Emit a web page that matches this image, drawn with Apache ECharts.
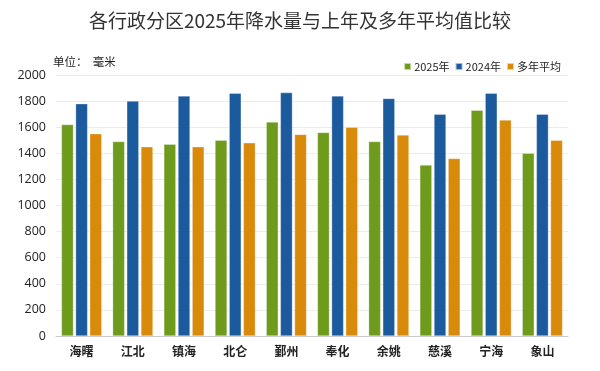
<!DOCTYPE html>
<html><head><meta charset="utf-8">
<script src="https://cdn.jsdelivr.net/npm/echarts@6/dist/echarts.min.js"></script>
<style>html,body{margin:0;padding:0;background:#fff}#c{width:600px;height:371px}</style>
</head><body><div id="c"></div>
<script>
var categories = ['海曙','江北','镇海','北仑','鄞州','奉化','余姚','慈溪','宁海','象山'];
var seriesNames = ['2025年','2024年','多年平均'];
var v2025 = [1620,1490,1470,1500,1640,1560,1490,1310,1730,1400];
var v2024 = [1780,1800,1840,1860,1865,1840,1820,1700,1860,1700];
var vAvg  = [1550,1450,1450,1480,1545,1600,1540,1360,1655,1500];
var colors = ['#6f9b1c','#1c5a9e','#d98a0b'];
var chart = echarts.init(document.getElementById('c'));
var font = '"Noto Sans CJK SC", "Noto Sans", sans-serif';
function mk(name, data, i){
  return {name:name, type:'bar', data:data, barWidth:12, barGap:'18%',
    itemStyle:{color:colors[i], borderColor:'rgba(255,255,255,0.6)', borderWidth:0.5}};
}
chart.setOption({
  animation:false,
  textStyle:{fontFamily:font},
  title:{text:'各行政分区2025年降水量与上年及多年平均值比较', left:'center', top:6,
    textStyle:{fontSize:19, fontWeight:'normal', color:'#333', fontFamily:font}},
  legend:{data:seriesNames, right:34, top:56, itemWidth:7, itemHeight:7, itemGap:5,
    icon:'rect', textStyle:{fontSize:11, color:'#222', fontFamily:font, padding:[0,0,0,-2]}},
  graphic:[{type:'text', left:53, top:56, style:{text:'单位：  毫米', fontSize:11.5, fill:'#222', fontFamily:font}}],
  grid:{left:56, right:32, top:75, bottom:35},
  xAxis:{type:'category', data:categories,
    axisLine:{lineStyle:{color:'#c8c8c8'}}, axisTick:{show:false},
    axisLabel:{fontSize:12, color:'#222', fontWeight:'bold', margin:9, fontFamily:font}},
  yAxis:{type:'value', min:0, max:2000, interval:200,
    axisLine:{show:false}, axisTick:{show:false},
    axisLabel:{fontSize:12.5, color:'#222', margin:10, fontFamily:'"Open Sans", sans-serif',
      formatter:function(v){return String(v);}},
    splitLine:{lineStyle:{color:'#ececec'}}},
  series:[mk(seriesNames[0], v2025, 0), mk(seriesNames[1], v2024, 1), mk(seriesNames[2], vAvg, 2)]
});
</script></body></html>
